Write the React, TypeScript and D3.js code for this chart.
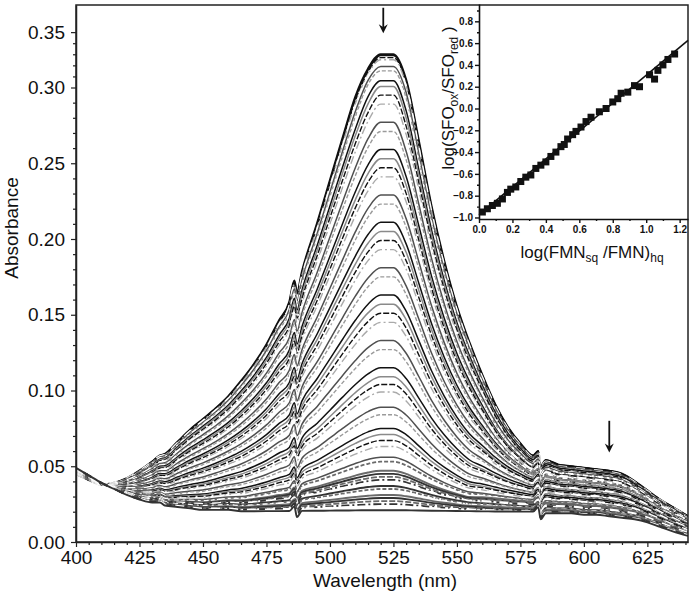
import React, { useRef, useEffect } from 'react';
import * as d3 from 'd3';

// sampled wavelengths (nm) for the two limiting spectra
const wavelengths = [400, 405, 410, 415, 420, 425, 430, 433, 435, 440, 445, 450, 455, 460, 465, 470, 475, 480, 484, 486, 487, 489, 495, 500, 505, 510, 515, 520, 525, 530, 535, 540, 545, 550, 555, 560, 565, 570, 575, 580, 582, 583, 585, 590, 595, 600, 605, 610, 615, 620, 625, 630, 635, 641];
// first spectrum (oxidized)
const oxidized = [0.045, 0.041, 0.038, 0.039, 0.042, 0.047, 0.053, 0.057, 0.058, 0.066, 0.074, 0.081, 0.088, 0.096, 0.106, 0.117, 0.130, 0.146, 0.158, 0.172, 0.164, 0.178, 0.210, 0.238, 0.266, 0.293, 0.316, 0.329, 0.329, 0.306, 0.264, 0.221, 0.185, 0.155, 0.131, 0.110, 0.091, 0.076, 0.065, 0.057, 0.060, 0.050, 0.054, 0.051, 0.050, 0.049, 0.048, 0.047, 0.045, 0.040, 0.034, 0.028, 0.023, 0.017];
// last spectrum (reduced)
const reduced = [0.049, 0.044, 0.039, 0.035, 0.031, 0.028, 0.026, 0.026, 0.024, 0.023, 0.022, 0.021, 0.021, 0.021, 0.020, 0.020, 0.020, 0.020, 0.020, 0.023, 0.016, 0.020, 0.020, 0.020, 0.020, 0.020, 0.020, 0.020, 0.020, 0.020, 0.020, 0.020, 0.020, 0.020, 0.020, 0.020, 0.020, 0.020, 0.020, 0.020, 0.023, 0.015, 0.019, 0.019, 0.019, 0.018, 0.018, 0.017, 0.016, 0.015, 0.013, 0.010, 0.007, 0.004];

// absorbance of every recorded spectrum at the two arrows
const peakLevels = [
  0.330, 0.329, 0.327, 0.325, 0.322, 0.319, 0.315, 0.311, 0.306, 0.301,
  0.295, 0.289, 0.283, 0.277, 0.271, 0.265, 0.259, 0.253,
  0.247, 0.241, 0.235, 0.229, 0.223, 0.217, 0.211, 0.205,
  0.199, 0.193, 0.187, 0.181, 0.175, 0.169, 0.163, 0.157, 0.151,
  0.145, 0.139, 0.133, 0.127, 0.121, 0.115, 0.109, 0.104,
  0.099, 0.094, 0.089, 0.084, 0.079, 0.075, 0.071, 0.067, 0.063, 0.059, 0.056, 0.053, 0.050,
  0.047, 0.045, 0.043, 0.041, 0.039, 0.037, 0.035, 0.033, 0.031, 0.029, 0.027, 0.025, 0.023, 0.021,
];
const shoulderLevels = [
  0.047, 0.047, 0.047, 0.046, 0.046, 0.046, 0.045, 0.045, 0.045, 0.044,
  0.044, 0.043, 0.043, 0.043, 0.042, 0.042, 0.041, 0.041,
  0.041, 0.040, 0.040, 0.039, 0.039, 0.039, 0.038, 0.038,
  0.037, 0.037, 0.036, 0.036, 0.036, 0.035, 0.035, 0.034, 0.034,
  0.033, 0.033, 0.032, 0.032, 0.031, 0.031, 0.030, 0.030,
  0.029, 0.029, 0.028, 0.028, 0.027, 0.027, 0.026, 0.026, 0.025, 0.025, 0.024, 0.024, 0.023,
  0.023, 0.022, 0.022, 0.021, 0.021, 0.020, 0.020, 0.019, 0.019, 0.018, 0.018, 0.018, 0.017, 0.017,
];
const peakWavelength = 521;
const shoulderWavelength = 610;

const xTicks = [400, 425, 450, 475, 500, 525, 550, 575, 600, 625];
const yTicks = [0, 0.05, 0.10, 0.15, 0.20, 0.25, 0.30, 0.35];

const arrows = [
  { wavelength: 521, from: 0.372, to: 0.349 },
  { wavelength: 610, from: 0.080, to: 0.059 },
];

// inset: log(FMNsq/FMN)hq vs log(SFOox/SFOred)
const insetX = [0.02, 0.05, 0.08, 0.11, 0.14, 0.17, 0.19, 0.22, 0.25, 0.28, 0.31, 0.34, 0.37, 0.40, 0.43, 0.46, 0.49, 0.51, 0.53, 0.56, 0.58, 0.61, 0.64, 0.67, 0.72, 0.76, 0.80, 0.83, 0.85, 0.89, 0.93, 0.96, 1.02, 1.05, 1.07, 1.10, 1.13, 1.17];
const insetY = [-0.95, -0.92, -0.89, -0.87, -0.83, -0.77, -0.74, -0.72, -0.67, -0.63, -0.61, -0.55, -0.52, -0.49, -0.44, -0.40, -0.35, -0.33, -0.28, -0.24, -0.21, -0.17, -0.12, -0.08, -0.03, 0.00, 0.06, 0.09, 0.14, 0.15, 0.21, 0.20, 0.31, 0.27, 0.35, 0.40, 0.45, 0.50];
const fitSlope = 1.28;
const fitIntercept = -0.975;
const insetXTicks = [0, 0.2, 0.4, 0.6, 0.8, 1.0, 1.2];
const insetYTicks = [-1.0, -0.8, -0.6, -0.4, -0.2, 0, 0.2, 0.4, 0.6, 0.8];

const lineStyles = [
  { color: '#111', dash: null, width: 1.5 },
  { color: '#8a8a8a', dash: null, width: 1.5 },
  { color: '#111', dash: '6,2', width: 1.4 },
  { color: '#aaa', dash: '8,3,2,3', width: 1.4 },
  { color: '#fff', dash: '9,9', width: 3 },
  { color: '#505050', dash: null, width: 1.5 },
  { color: '#9a9a9a', dash: '4,2', width: 1.4 },
  { color: '#fff', dash: '5,4,2,4', width: 2.4 },
];

const FONT = '"Liberation Sans", Arial, sans-serif';

const App = () => {
  const ref = useRef(null);

  useEffect(() => {
    const svg = d3.select(ref.current);
    svg.selectAll('*').remove();

    const left = 76, right = 688, top = 5, bottom = 542;
    const x = d3.scaleLinear().domain([400, 641]).range([left, right]);
    // the upper part of the printed axis is compressed (0.30 -> 0.35 is shorter)
    const y = d3.scaleLinear().domain([0, 0.30, 0.3745]).range([bottom, 87.5, top]);

    svg.append('defs').append('clipPath').attr('id', 'plotclip')
      .append('rect').attr('x', left).attr('y', top).attr('width', right - left).attr('height', bottom - top);

    const oxAt = d3.scaleLinear().domain(wavelengths).range(oxidized);
    const redAt = d3.scaleLinear().domain(wavelengths).range(reduced);
    const pRed = redAt(peakWavelength), pOx = oxAt(peakWavelength);
    const sRed = redAt(shoulderWavelength), sOx = oxAt(shoulderWavelength);

    const spectra = peakLevels.map((p, i) => {
      const fp = (p - pRed) / (pOx - pRed);
      const fs = (shoulderLevels[i] - sRed) / (sOx - sRed);
      return wavelengths.map((wl, j) => {
        const w = Math.max(0, Math.min(1, (wl - 555) / 30));
        const f = fp * (1 - w) + fs * w;
        return { wl, a: reduced[j] + f * (oxidized[j] - reduced[j]) };
      });
    });

    const line = d3.line()
      .x(d => x(d.wl))
      .y(d => y(d.a))
      .curve(d3.curveMonotoneX);

    const curves = svg.append('g').attr('clip-path', 'url(#plotclip)');
    spectra.forEach((s, i) => {
      const st = lineStyles[i % lineStyles.length];
      const low = i >= spectra.length - 16;
      curves.append('path')
        .attr('d', line(s))
        .attr('fill', 'none')
        .attr('stroke', i < 2 ? '#111' : (low && st.color !== '#fff' ? (i % 2 ? '#333' : '#6a6a6a') : st.color))
        .attr('stroke-width', i === 0 ? 2.2 : (low ? st.width + 0.4 : st.width))
        .attr('stroke-dasharray', i < 2 ? null : st.dash);
    });

    // frame
    svg.append('rect')
      .attr('x', left).attr('y', top).attr('width', right - left).attr('height', bottom - top)
      .attr('fill', 'none').attr('stroke', '#222').attr('stroke-width', 1.5);

    // axes
    const yAxis = svg.append('g').attr('transform', `translate(${left},0)`)
      .call(d3.axisLeft(y).tickValues(yTicks).tickFormat(d3.format('.2f')).tickSize(5).tickSizeOuter(0).tickPadding(6));
    svg.append('g').attr('transform', `translate(${left},0)`)
      .call(d3.axisLeft(y).tickValues(d3.range(0, 36).filter(i => i % 5 !== 0).map(i => i / 100)).tickFormat(() => '').tickSize(3).tickSizeOuter(0))
      .select('.domain').remove();
    const xAxis = svg.append('g').attr('transform', `translate(0,${bottom})`)
      .call(d3.axisBottom(x).tickValues(xTicks).tickFormat(d3.format('d')).tickSize(5).tickSizeOuter(0).tickPadding(3.5));
    svg.append('g').attr('transform', `translate(0,${bottom})`)
      .call(d3.axisBottom(x).tickValues(d3.range(400, 641, 5).filter(v => v % 25 !== 0)).tickFormat(() => '').tickSize(3).tickSizeOuter(0))
      .select('.domain').remove();
    [yAxis, xAxis].forEach(a => {
      a.selectAll('text').attr('font-size', 19).attr('font-family', FONT).attr('fill', '#111');
      a.select('.domain').attr('stroke', '#222').attr('stroke-width', 1.5);
    });
    svg.selectAll('.tick line').attr('stroke', '#222').attr('stroke-width', 1.2);

    svg.append('text')
      .attr('x', (left + right) / 2 + 3).attr('y', 587)
      .attr('text-anchor', 'middle').attr('font-size', 19).attr('font-family', FONT).attr('fill', '#111')
      .text('Wavelength (nm)');
    svg.append('text')
      .attr('transform', 'translate(18,228) rotate(-90)')
      .attr('text-anchor', 'middle').attr('font-size', 19).attr('font-family', FONT).attr('fill', '#111')
      .text('Absorbance');

    // arrows
    arrows.forEach(a => {
      const ax = x(a.wavelength), y1 = y(a.from), y2 = y(a.to);
      svg.append('line')
        .attr('x1', ax).attr('x2', ax).attr('y1', y1).attr('y2', y2 - 4)
        .attr('stroke', '#111').attr('stroke-width', 1.8);
      svg.append('path')
        .attr('d', `M${ax - 4.5},${y2 - 9}L${ax},${y2}L${ax + 4.5},${y2 - 9}L${ax},${y2 - 6}Z`)
        .attr('fill', '#111');
    });

    // inset
    const ix = d3.scaleLinear().domain([0, 1.25]).range([479, right]);
    const iy = d3.scaleLinear().domain([-1.014, 0.959]).range([219, 4]);
    const inset = svg.append('g');

    const fitLine = d3.line().x(d => ix(d)).y(d => iy(fitIntercept + fitSlope * d));
    inset.append('path')
      .attr('d', fitLine(ix.domain()))
      .attr('fill', 'none').attr('stroke', '#111').attr('stroke-width', 1.6);

    inset.selectAll('rect.pt')
      .data(insetX.map((v, i) => [v, insetY[i]]))
      .join('rect')
      .attr('class', 'pt')
      .attr('x', d => ix(d[0]) - 3.5).attr('y', d => iy(d[1]) - 3.5)
      .attr('width', 7).attr('height', 7)
      .attr('fill', '#111');

    const iyAxis = inset.append('g').attr('transform', 'translate(479,0)')
      .call(d3.axisLeft(iy).tickValues(insetYTicks).tickFormat(d3.format('.1f')).tickSize(4).tickSizeOuter(0).tickPadding(2));
    inset.append('g').attr('transform', 'translate(479,0)')
      .call(d3.axisLeft(iy).tickValues(d3.range(-9, 10, 2).map(v => v / 10)).tickFormat(() => '').tickSize(2).tickSizeOuter(0))
      .select('.domain').remove();
    const ixAxis = inset.append('g').attr('transform', 'translate(0,219)')
      .call(d3.axisBottom(ix).tickValues(insetXTicks).tickFormat(d3.format('.1f')).tickSize(4).tickSizeOuter(0).tickPadding(3));
    inset.append('g').attr('transform', 'translate(0,219)')
      .call(d3.axisBottom(ix).tickValues(d3.range(1, 13, 2).map(v => v / 10)).tickFormat(() => '').tickSize(2).tickSizeOuter(0))
      .select('.domain').remove();
    [iyAxis, ixAxis].forEach(a => {
      a.selectAll('text').attr('font-size', 10).attr('font-weight', 'bold').attr('font-family', FONT).attr('fill', '#111');
      a.select('.domain').attr('stroke', '#111').attr('stroke-width', 1.6);
    });
    inset.selectAll('.tick line').attr('stroke', '#111').attr('stroke-width', 1.4);

    const yl = inset.append('text')
      .attr('transform', 'translate(454,98) rotate(-90)')
      .attr('text-anchor', 'middle').attr('font-size', 17).attr('font-family', FONT).attr('fill', '#111');
    yl.append('tspan').text('log(SFO');
    yl.append('tspan').attr('font-size', 12).attr('dy', 4).text('ox');
    yl.append('tspan').attr('dy', -4).text('/SFO');
    yl.append('tspan').attr('font-size', 12).attr('dy', 4).text('red');
    yl.append('tspan').attr('dy', -4).text(' )');

    const xl = inset.append('text')
      .attr('x', 592).attr('y', 258)
      .attr('text-anchor', 'middle').attr('font-size', 17).attr('font-family', FONT).attr('fill', '#111');
    xl.append('tspan').text('log(FMN');
    xl.append('tspan').attr('font-size', 12).attr('dy', 4).text('sq');
    xl.append('tspan').attr('dy', -4).text(' /FMN)');
    xl.append('tspan').attr('font-size', 12).attr('dy', 4).text('hq');
  }, []);

  return (
    <svg ref={ref} width={693} height={596}
      style={{ position: 'absolute', left: 0, top: 0, background: '#fff' }} />
  );
};

export default App;
